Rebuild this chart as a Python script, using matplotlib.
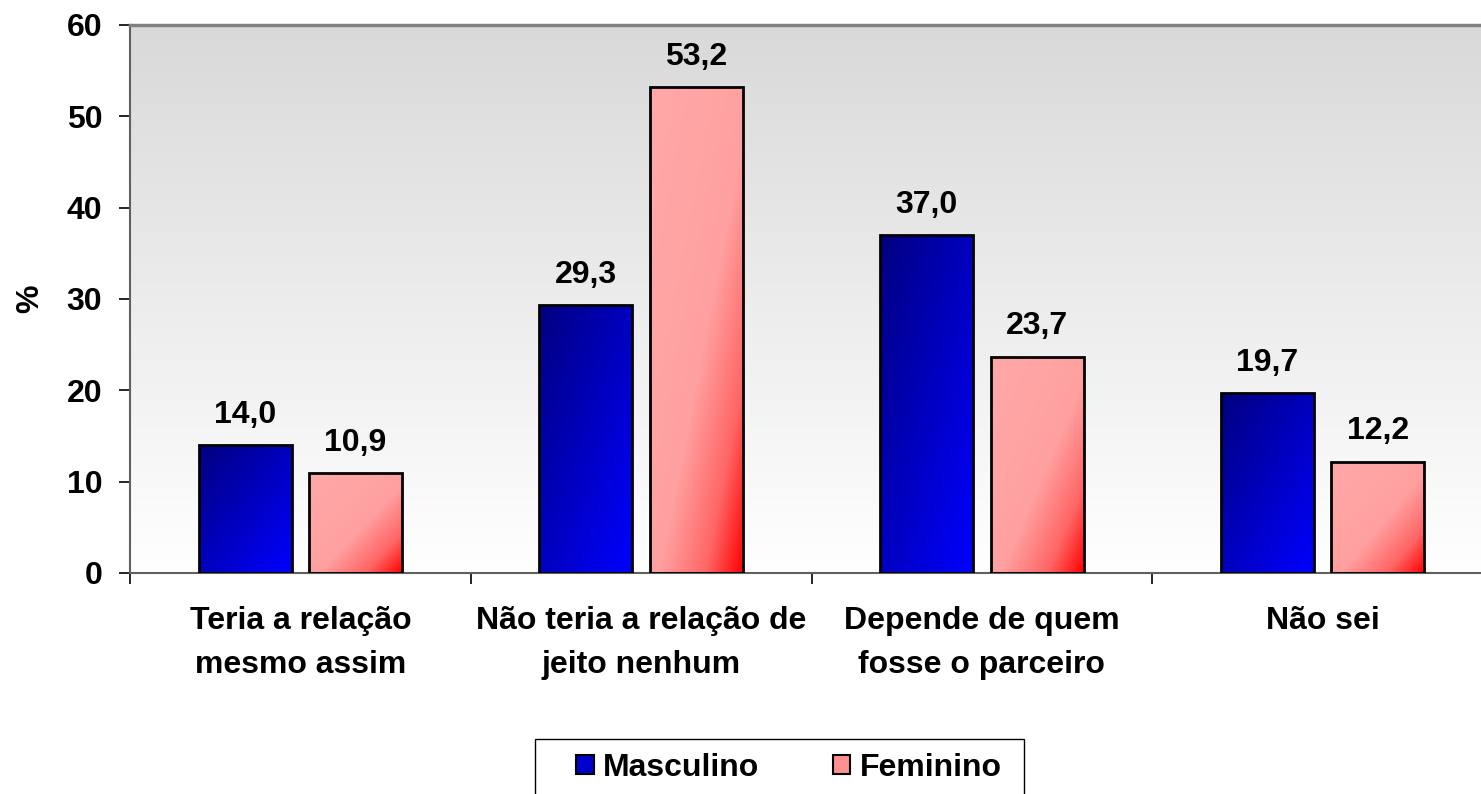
import numpy as np
import matplotlib
matplotlib.use("Agg")
import matplotlib.pyplot as plt
from matplotlib.colors import LinearSegmentedColormap
from matplotlib.patches import Patch, Rectangle

# ---- Data ----
categories = ["Teria a relação\nmesmo assim", "Não teria a relação de\njeito nenhum",
              "Depende de quem\nfosse o parceiro", "Não sei"]
masculino = [14.0, 29.3, 37.0, 19.7]
feminino = [10.9, 53.2, 23.7, 12.2]
series_names = ["Masculino", "Feminino"]

plt.rcParams['font.family'] = ['Liberation Sans', 'DejaVu Sans']
plt.rcParams['font.weight'] = 'bold'
FS = 23

fig = plt.figure(figsize=(14.81, 7.94), dpi=100)
ax = fig.add_axes([130 / 1481, (794 - 573) / 794, 1363 / 1481, 548 / 794])

x = np.arange(len(categories))
width = 0.273
offset = 0.162

# plot area background: gray at top fading to white
bg_cmap = LinearSegmentedColormap.from_list("bg", ["#ffffff", "#d9d9d9"])
bg = np.linspace(0, 1, 256).reshape(-1, 1)
ax.imshow(bg, extent=[-0.5, 3.5, 0, 60], origin='lower', aspect='auto',
          cmap=bg_cmap, zorder=0)

blue_cmap = LinearSegmentedColormap.from_list("blue", [(0, "#000080"), (1, "#0000ff")])
pink_cmap = LinearSegmentedColormap.from_list("pink", [(0, "#ffa8a8"), (0.55, "#ffa0a0"),
                                                     (0.8, "#ff6666"), (1, "#ff0000")])

# diagonal gradient: top-left -> bottom-right
u = np.linspace(0, 1, 100)
uu, vv = np.meshgrid(u, u)
diag = (uu + vv) / 2  # row 0 = top

bars_m = ax.bar(x - offset, masculino, width, facecolor='none', edgecolor='black',
                linewidth=2, zorder=3)
bars_f = ax.bar(x + offset, feminino, width, facecolor='none', edgecolor='black',
                linewidth=2, zorder=3)

for bars, cmap in [(bars_m, blue_cmap), (bars_f, pink_cmap)]:
    for rect in bars:
        x0, y0 = rect.get_x(), rect.get_y()
        w, h = rect.get_width(), rect.get_height()
        im = ax.imshow(diag, extent=[x0, x0 + w, y0, y0 + h], origin='upper',
                       aspect='auto', cmap=cmap, vmin=0, vmax=1, zorder=2)
        im.set_clip_path(rect)

for bars, vals in [(bars_m, masculino), (bars_f, feminino)]:
    for rect, v in zip(bars, vals):
        ax.annotate(f"{v:.1f}".replace(".", ","),
                    (rect.get_x() + rect.get_width() / 2, v),
                    xytext=(0, 11), textcoords='offset points',
                    ha='center', va='bottom', fontsize=FS, fontweight='bold')

ax.set_xlim(-0.5, 3.5)
ax.set_ylim(0, 60)

# y axis
ax.set_yticks(range(0, 61, 10))
ax.tick_params(axis='y', direction='out', length=8, width=1.2, pad=12,
               labelsize=FS, color='black')
ax.set_ylabel("%", fontsize=FS, fontweight='bold')
ax.yaxis.set_label_coords(-0.062, 0.5)

# x axis: tick marks at group boundaries, labels at centers
ax.set_xticks([-0.5, 0.5, 1.5, 2.5, 3.5])
ax.set_xticklabels([])
ax.tick_params(axis='x', which='major', direction='out', length=8, width=1.2)
ax.set_xticks(x, minor=True)
ax.set_xticklabels(categories, minor=True, fontsize=FS, fontweight='bold',
                   linespacing=1.6)
ax.tick_params(axis='x', which='minor', length=0, pad=24)

for side in ['left', 'bottom']:
    ax.spines[side].set_color('#606060')
    ax.spines[side].set_linewidth(1.5)
ax.spines['top'].set_color('#808080')
ax.spines['top'].set_linewidth(2.5)
ax.spines['right'].set_visible(False)

# legend: box drawn separately so the entries can sit off-centre like the original
fig.patches.append(Rectangle((535 / 1481, -0.05), (1024 - 535) / 1481, 0.05 + 55 / 794,
                             transform=fig.transFigure, facecolor='white',
                             edgecolor='black', linewidth=1, zorder=1))
handles = [Patch(facecolor='#0000cc', edgecolor='black', linewidth=1.5),
           Patch(facecolor='#ff9090', edgecolor='black', linewidth=1.5)]
leg = fig.legend(handles, series_names, loc='upper left',
                 bbox_to_anchor=(576 / 1481, 1 - 753 / 794), ncol=2,
                 frameon=False, prop={'size': FS, 'weight': 'bold'},
                 handlelength=0.55, handleheight=0.55, handletextpad=0.3,
                 columnspacing=2.3, borderpad=0, borderaxespad=0)
leg.set_zorder(2)

fig.savefig("out.png", dpi=100)
